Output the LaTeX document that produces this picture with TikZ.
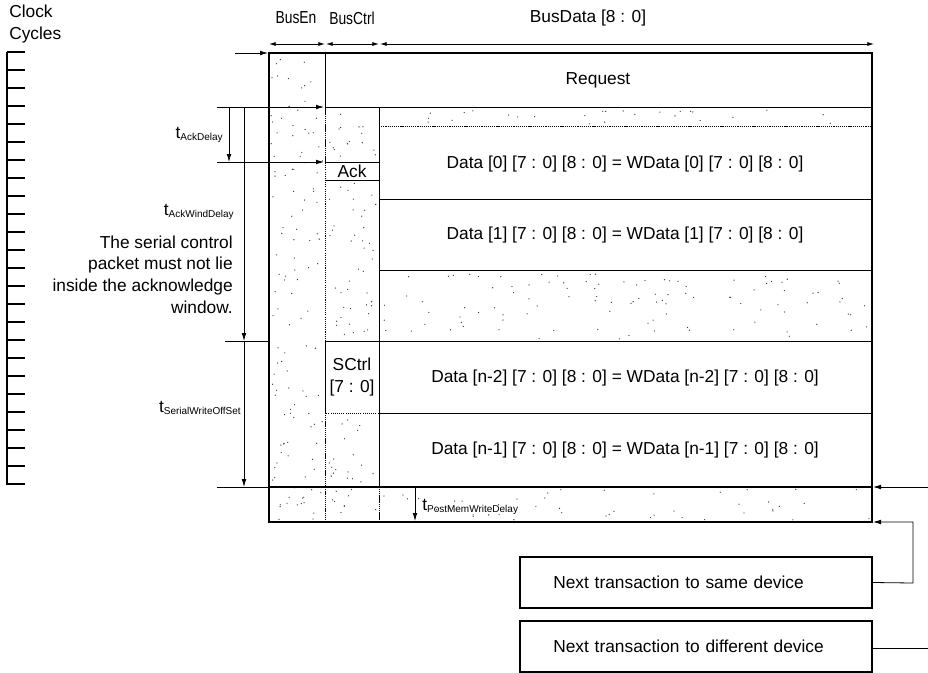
\documentclass[tikz,border=0pt]{standalone}
\usepackage{fontspec}
\usepackage{graphicx}
\setmainfont{Liberation Sans}
\usetikzlibrary{arrows.meta}
\newcommand{\tsb}[1]{{\fontsize{13}{13}\selectfont t}\raisebox{-1.2pt}{\fontsize{7.5}{8}\selectfont #1}}
\newcommand{\narrowtxt}[1]{\scalebox{0.8}[1]{#1}}
\newcommand{\stipfill}[5]{%
  \foreach \k in {1,...,#5}{%
    \pgfmathsetmacro{\sx}{#1+2+rnd*(#3-#1-4)}%
    \pgfmathsetmacro{\sy}{#2+2+rnd*(#4-#2-4)}%
    \fill[black!75] (\sx,\sy) circle[radius=0.5pt];%
  }%
  \draw[stipedge] (#1,#2) rectangle (#3,#4);%
}
\tikzset{
  arr/.style={line width=0.6pt,-{Latex[length=6pt,width=3.5pt]}},
  dimarr/.style={line width=0.6pt,{Latex[length=5pt,width=3pt]}-{Latex[length=5pt,width=3pt]}},
  outerline/.style={line width=1.5pt},
  gline/.style={line width=0.7pt},
  plainline/.style={line width=0.6pt},
  stipedge/.style={line width=0.6pt, densely dotted},
  bigtxt/.style={font=\fontsize{13}{16.2}\selectfont, inner sep=0pt},
  hdrtxt/.style={font=\fontsize{13}{14}\selectfont, inner sep=0pt},
  labtxt/.style={inner sep=0pt},
  nextbox/.style={draw, line width=1.5pt, font=\fontsize{13}{15}\selectfont,
    minimum width=264pt, minimum height=38pt, text width=214pt, align=left,
    inner xsep=25pt, inner ysep=0pt},
}
\begin{document}
\begin{tikzpicture}[x=0.75pt,y=-0.75pt]
\useasboundingbox (0,0) rectangle (928,672);
\pgfmathsetseed{7}

% ---------- clock scale ----------
\node[bigtxt, anchor=north west, align=left] (clk) at (9,5) {Clock\\Cycles};
\draw[line width=1.5pt] (7,51.5) -- (7,485);
\foreach \y in {52,70,...,484} \draw[line width=0.8pt] (7,\y) -- (25,\y);
\foreach \y in {52,124,196,268,340,412,484} \draw[line width=1.5pt] (7,\y) -- (25,\y);

% ---------- header ----------
\node[hdrtxt] (hen) at (296,18) {\narrowtxt{BusEn}};
\node[hdrtxt] (hctl) at (352,18) {\narrowtxt{BusCtrl}};
\node[hdrtxt] (hdat) at (588,18) {BusData [8 : 0]};
\coordinate (d0) at (269,44); \coordinate (d1) at (325,44);
\coordinate (d1b) at (326,44); \coordinate (d2) at (379,44);
\coordinate (d2b) at (380,44); \coordinate (d3) at (874,44);
\draw[dimarr] (d0) -- (d1);
\draw[dimarr] (d1b) -- (d2);
\draw[dimarr] (d2b) -- (d3);

% ---------- stippled areas ----------
\stipfill{269}{53}{325}{522}{120}
\stipfill{325}{107}{379}{162}{16}
\stipfill{325}{180}{379}{341}{42}
\stipfill{325}{413}{379}{487}{18}
\stipfill{325}{487}{379}{522}{9}
\stipfill{379}{107}{872}{126}{26}
\stipfill{379}{270}{872}{341}{105}
\stipfill{379}{487}{872}{522}{45}

% ---------- grid lines ----------
\draw[outerline] (269,53) rectangle (872,522);
\draw[outerline] (269,487) -- (872,487);
\draw[gline] (325,53) -- (325,107);
\draw[gline] (325,107) -- (872,107);
\draw[gline] (379,107) -- (379,487);
\draw[stipedge] (379,126) -- (872,126);
\draw[gline] (379,199) -- (872,199);
\draw[gline] (379,270) -- (872,270);
\draw[gline] (325,341) -- (872,341);
\draw[gline] (379,413) -- (872,413);
\draw[gline] (325,162) -- (379,162);
\draw[gline] (325,180) -- (379,180);
\draw[gline] (325,341) -- (325,413);

% ---------- texts in the grid ----------
\node[bigtxt] (req) at (598,80) {Request};
\node[bigtxt] (ack) at (352,171) {Ack};
\node[bigtxt] (d0t) at (625,164) {Data [0] [7 : 0] [8 : 0] = WData [0] [7 : 0] [8 : 0]};
\node[bigtxt] (d1t) at (625,235) {Data [1] [7 : 0] [8 : 0] = WData [1] [7 : 0] [8 : 0]};
\node[bigtxt, align=center] (sct) at (352,377) {SCtrl\\{[7 : 0]}};
\node[bigtxt] (dn2) at (625,378) {Data [n-2] [7 : 0] [8 : 0] = WData [n-2] [7 : 0] [8 : 0]};
\node[bigtxt] (dn1) at (625,450) {Data [n-1] [7 : 0] [8 : 0] = WData [n-1] [7 : 0] [8 : 0]};
\node[labtxt, anchor=west] (tpm) at (422,507) {\tsb{PostMemWriteDelay}};
\coordinate (pm0) at (415,488); \coordinate (pm1) at (415,521);
\draw[arr] (pm0) -- (pm1);

% ---------- left annotations ----------
\coordinate (ain) at (235,53); \coordinate (TL) at (268,53);
\draw[arr] (ain) -- (TL);
\coordinate (r1) at (217,107); \coordinate (r1e) at (324,107);
\draw[arr] (r1) -- (r1e);
\coordinate (r2) at (217,162); \coordinate (r2e) at (324,162);
\draw[arr] (r2) -- (r2e);
\coordinate (ad0) at (229,107); \coordinate (ad1) at (229,162);
\draw[arr] (ad0) -- (ad1);
\coordinate (aw0) at (244,107); \coordinate (aw1) at (244,341);
\draw[arr] (aw0) -- (aw1);
\coordinate (r3) at (225,341); \coordinate (r3e) at (268,341);
\draw[plainline] (r3) -- (r3e);
\coordinate (sw1) at (244,487);
\draw[arr] (aw1) -- (sw1);
\coordinate (r4) at (217,487); \coordinate (r4e) at (268,487);
\draw[plainline] (r4) -- (r4e);

\node[labtxt, anchor=east] (tad) at (223,135) {\tsb{AckDelay}};
\node[labtxt, anchor=east] (taw) at (234,212) {\tsb{AckWindDelay}};
\node[labtxt, anchor=east] (tsw) at (241,408) {\tsb{SerialWriteOffSet}};
\node[bigtxt, anchor=east, align=right] (note) at (233,274.5)
  {The serial control\\packet must not lie\\inside the acknowledge\\window.};

% ---------- right side / next transactions ----------
\coordinate (rin) at (928,487); \coordinate (rine) at (873,487);
\draw[arr] (rin) -- (rine);
\node[nextbox] (same) at (696,582.5) {Next transaction to same device};
\node[nextbox] (diff) at (696,646.5) {Next transaction to different device};
\coordinate (bk1) at (913,583); \coordinate (bk2) at (913,522); \coordinate (bke) at (873,522);
\draw[arr] (same.east) -- (bk1) -- (bk2) -- (bke);
\coordinate (dout) at (928,648);
\draw[plainline] (diff.east |- dout) -- (dout);
\end{tikzpicture}
\end{document}
